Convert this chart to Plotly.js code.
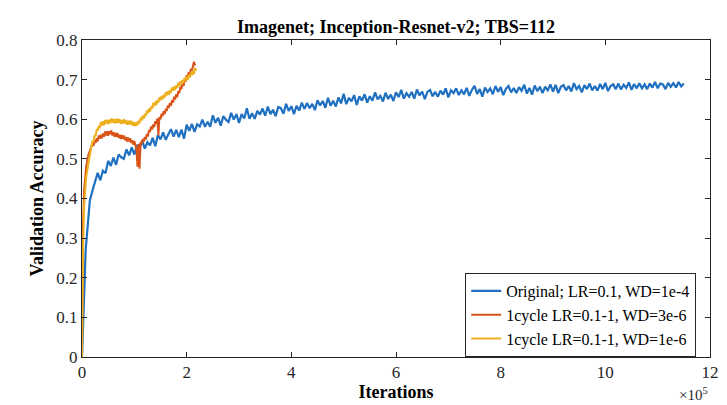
<!DOCTYPE html>
<html>
<head>
<meta charset="utf-8">
<script src="https://cdn.plot.ly/plotly-3.0.1.min.js"></script>
<style>html,body{margin:0;padding:0;background:#fff;}#chart{width:727px;height:405px;}</style>
</head>
<body>
<div id="chart"></div>
<script>
// Iterations are in units of 1e5
const seriesNames = ["Original; LR=0.1, WD=1e-4", "1cycle LR=0.1-1, WD=3e-6", "1cycle LR=0.1-1, WD=1e-6"];

// Blue (Original) — early samples, then regular samples every 0.05 from 0.30 to 11.50
const blueEarlyIter = [0, 0.01, 0.02, 0.035, 0.05, 0.07, 0.1, 0.12, 0.15, 0.2, 0.25];
const blueEarlyAcc  = [0, 0.05, 0.1, 0.15, 0.19, 0.27, 0.32, 0.355, 0.395, 0.42, 0.445];
const blueIterStart = 0.30, blueIterStep = 0.05;
const blueAcc = [
0.465,0.446,0.470,0.464,0.495,0.482,0.503,0.485,0.511,0.504,
0.500,0.524,0.509,0.529,0.511,0.535,0.527,0.546,0.526,0.542,
0.534,0.553,0.532,0.560,0.549,0.567,0.548,0.562,0.575,0.556,
0.573,0.555,0.574,0.551,0.586,0.571,0.588,0.568,0.587,0.582,
0.599,0.581,0.594,0.581,0.610,0.591,0.604,0.584,0.608,0.599,
0.593,0.616,0.599,0.613,0.591,0.613,0.602,0.628,0.601,0.615,
0.601,0.621,0.612,0.627,0.609,0.632,0.613,0.624,0.608,0.631,
0.628,0.614,0.639,0.621,0.633,0.613,0.634,0.622,0.642,0.626,
0.641,0.628,0.639,0.623,0.648,0.635,0.646,0.629,0.654,0.634,
0.647,0.632,0.655,0.640,0.664,0.638,0.654,0.645,0.661,0.636,
0.658,0.647,0.663,0.642,0.658,0.647,0.668,0.650,0.659,0.645,
0.667,0.651,0.662,0.646,0.668,0.656,0.674,0.652,0.666,0.657,
0.669,0.652,0.675,0.660,0.670,0.651,0.669,0.674,0.658,0.669,
0.657,0.672,0.662,0.678,0.655,0.673,0.666,0.678,0.661,0.673,
0.663,0.679,0.659,0.674,0.684,0.664,0.676,0.657,0.680,0.669,
0.678,0.663,0.684,0.669,0.681,0.661,0.677,0.684,0.668,0.679,
0.666,0.681,0.672,0.687,0.665,0.679,0.662,0.685,0.671,0.682,
0.666,0.682,0.673,0.688,0.670,0.687,0.666,0.682,0.686,0.673,
0.684,0.670,0.691,0.676,0.684,0.668,0.686,0.676,0.690,0.673,
0.684,0.672,0.689,0.676,0.692,0.671,0.684,0.688,0.676,0.690,
0.675,0.687,0.679,0.693,0.674,0.689,0.678,0.691,0.678,0.688,
0.676,0.690,0.680,0.694,0.678,0.690,0.688,0.676,0.692,0.682,
0.691,0.680,0.694,0.683,0.690
];

// Red (1cycle WD=3e-6) — early samples, then every 0.02 from 0.20 to 2.16
const redEarlyIter = [0, 0.01, 0.02, 0.04, 0.06, 0.08, 0.1, 0.12, 0.15, 0.18];
const redEarlyAcc  = [0, 0.2, 0.33, 0.42, 0.46, 0.48, 0.495, 0.51, 0.52, 0.53];
const redIterStart = 0.20, redIterStep = 0.02;
const redAcc = [
0.539,0.533,0.547,0.540,0.552,0.544,0.559,0.551,0.561,0.552,
0.564,0.556,0.569,0.559,0.570,0.558,0.570,0.562,0.572,0.559,
0.567,0.556,0.566,0.556,0.565,0.553,0.561,0.550,0.560,0.551,
0.559,0.547,0.555,0.544,0.554,0.544,0.552,0.540,0.547,0.536,
0.545,0.534,0.525,0.480,0.538,0.475,0.542,0.537,0.550,0.543,
0.555,0.549,0.563,0.557,0.573,0.568,0.582,0.574,0.587,0.580,
0.595,0.589,0.602,0.559,0.606,0.600,0.614,0.608,0.620,0.613,
0.626,0.621,0.635,0.629,0.641,0.634,0.648,0.642,0.657,0.650,
0.663,0.656,0.671,0.666,0.682,0.676,0.690,0.684,0.699,0.695,
0.711,0.706,0.719,0.713,0.727,0.723,0.740,0.745,0.736
];

// Yellow (1cycle WD=1e-6) — early samples, then every 0.02 from 0.20 to 2.18
const yellowEarlyIter = [0, 0.01, 0.02, 0.04, 0.06, 0.08, 0.1, 0.12, 0.15, 0.18];
const yellowEarlyAcc  = [0, 0.15, 0.27, 0.38, 0.43, 0.455, 0.47, 0.49, 0.51, 0.53];
const yellowIterStart = 0.20, yellowIterStep = 0.02;
const yellowAcc = [
0.545,0.542,0.560,0.557,0.575,0.571,0.584,0.577,0.593,0.584,
0.595,0.585,0.598,0.589,0.599,0.588,0.599,0.590,0.602,0.592,
0.601,0.590,0.600,0.590,0.602,0.591,0.600,0.588,0.598,0.589,
0.600,0.589,0.598,0.586,0.596,0.587,0.597,0.586,0.595,0.583,
0.592,0.583,0.593,0.584,0.596,0.590,0.604,0.597,0.609,0.601,
0.614,0.608,0.622,0.615,0.627,0.619,0.632,0.626,0.641,0.633,
0.645,0.636,0.649,0.642,0.656,0.648,0.659,0.650,0.662,0.655,
0.668,0.660,0.671,0.662,0.674,0.667,0.680,0.672,0.683,0.674,
0.686,0.679,0.692,0.684,0.696,0.687,0.699,0.692,0.705,0.697,
0.708,0.699,0.712,0.705,0.718,0.711,0.722,0.714,0.730,0.722
];

const xTicks = [0, 2, 4, 6, 8, 10, 12];
const yTicks = [0, 0.1, 0.2, 0.3, 0.4, 0.5, 0.6, 0.7, 0.8];

function buildSeries(earlyX, earlyY, start, step, vals) {
  const x = earlyX.slice(), y = earlyY.slice();
  vals.forEach((v, i) => { x.push(+(start + i * step).toFixed(4)); y.push(v); });
  return {x, y};
}
const blue = buildSeries(blueEarlyIter, blueEarlyAcc, blueIterStart, blueIterStep, blueAcc);
const red = buildSeries(redEarlyIter, redEarlyAcc, redIterStart, redIterStep, redAcc);
const yellow = buildSeries(yellowEarlyIter, yellowEarlyAcc, yellowIterStart, yellowIterStep, yellowAcc);

const colors = ["#1f70c1", "#D95319", "#EDB120"];
const widths = [2.2, 2, 2];
const font = "Liberation Serif, Times New Roman, serif";
const traces = [blue, red, yellow].map((s, i) => ({
  x: s.x, y: s.y, type: "scatter", mode: "lines", name: seriesNames[i],
  line: {color: colors[i], width: widths[i]}
}));

const axisCommon = {
  showgrid: false, zeroline: false, showline: true, linecolor: "#262626", linewidth: 1,
  mirror: "ticks", ticks: "inside", ticklen: 5, tickcolor: "#262626",
  tickfont: {family: font, size: 17, color: "#262626"}
};

const layout = {
  width: 727, height: 405,
  margin: {l: 82, r: 17, t: 40, b: 48},
  paper_bgcolor: "#fff", plot_bgcolor: "#fff",
  title: {text: "<b>Imagenet; Inception-Resnet-v2; TBS=112</b>", font: {family: font, size: 18, color: "#000"},
          x: 0.5, xref: "paper", y: 1 - 27/405, yref: "container", yanchor: "middle"},
  xaxis: Object.assign({}, axisCommon, {range: [0, 12], tickvals: xTicks, ticktext: xTicks.map(String),
    title: {text: "<b>Iterations</b>", font: {family: font, size: 18, color: "#000"}, standoff: 2}}),
  yaxis: Object.assign({}, axisCommon, {range: [0, 0.8], tickvals: yTicks, ticktext: yTicks.map(String),
    title: {text: "<b>Validation Accuracy</b>", font: {family: font, size: 18, color: "#000"}, standoff: 8}}),
  showlegend: true,
  legend: {x: 0.978, xanchor: "right", y: 0, yanchor: "bottom", bgcolor: "#fff",
    bordercolor: "#262626", borderwidth: 1, font: {family: font, size: 16, color: "#000"},
    tracegroupgap: 0, itemwidth: 30},
  annotations: [{text: "×10<sup>5</sup>", xref: "paper", yref: "paper", x: 1.0, y: 0, yshift: -37,
    xanchor: "right", yanchor: "middle", showarrow: false, font: {family: font, size: 15, color: "#262626"}}]
};

Plotly.newPlot("chart", traces, layout, {displayModeBar: false, staticPlot: true});
</script>
</body>
</html>
